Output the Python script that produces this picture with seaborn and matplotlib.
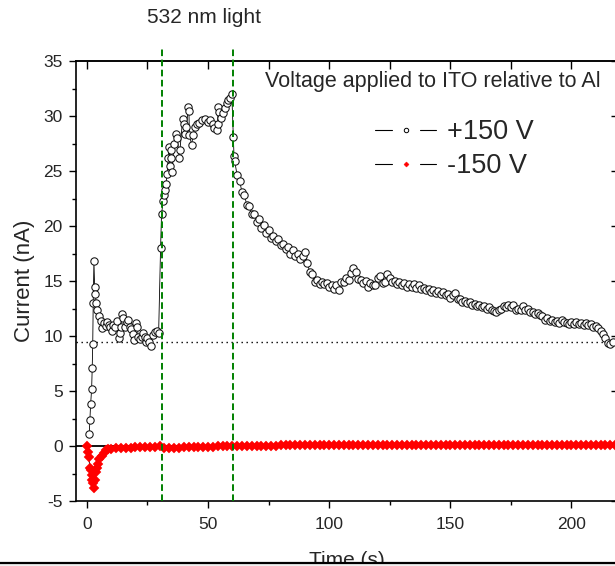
import numpy as np
import pandas as pd
import matplotlib
matplotlib.use("Agg")
import matplotlib.pyplot as plt
import seaborn as sns
from matplotlib.lines import Line2D
from matplotlib.patches import Rectangle
from matplotlib.legend_handler import HandlerBase
from matplotlib.ticker import MultipleLocator

# --- data ---
# +150 V: rise and dark current before the light (t < 30 s)
pos_t_dark = [0.95, 1.24, 1.53, 1.94, 2.19, 2.4, 2.6, 2.89, 3.18, 3.43,
              3.84, 4.25, 4.95, 5.65, 6.2, 7.1, 7.7, 8.4, 9.1, 9.6,
              10.2, 10.9, 11.6, 12.3, 13.1, 13.5, 14.0, 14.4, 15.0, 15.7,
              16.4, 17.0, 17.7, 18.4, 19.0, 19.4, 20.1, 20.8, 21.2, 21.9,
              22.6, 23.2, 23.9, 24.4, 24.9, 25.7, 26.4, 27.1, 28.1, 28.8,
              29.6]
pos_i_dark = [1.06, 2.36, 3.8, 5.15, 7.1, 9.3, 13.0, 16.8, 14.5, 13.8,
              13.0, 12.4, 11.8, 11.4, 10.75, 11.15, 10.9, 11.3, 11.0, 10.8,
              10.5, 11.0, 10.85, 11.4, 9.8, 10.25, 10.8, 12.0, 11.6, 10.8,
              11.3, 11.45, 10.8, 10.6, 10.2, 9.6, 11.2, 10.85, 9.9, 9.7,
              9.9, 10.3, 9.9, 9.5, 9.8, 9.5, 9.1, 10.1, 10.4, 10.5,
              10.3]

# +150 V: light on (30-60 s)
pos_t_light = [30.4, 30.8, 31.5, 31.8, 32.2, 32.6, 33.1, 33.55, 33.95, 34.25,
               34.5, 34.9, 35.2, 35.9, 36.7, 37.3, 38.1, 38.4, 39.5, 40.0,
               40.4, 41.1, 41.8, 42.1, 42.3, 43.2, 43.9, 44.6, 45.5, 46.3,
               47.3, 48.7, 50.1, 51.0, 51.9, 52.4, 53.5, 53.9, 54.2, 54.6,
               55.3, 56.0, 57.0, 57.7, 58.3, 59.0, 59.8, 60.4, 60.7]
pos_i_light = [18.0, 21.1, 22.3, 22.8, 23.3, 23.8, 24.7, 26.2, 27.2, 25.5,
               26.2, 26.9, 24.9, 27.5, 28.4, 28.0, 26.2, 26.9, 29.7, 29.3,
               28.4, 29.0, 30.8, 30.5, 28.3, 27.4, 28.3, 29.0, 29.3, 29.4,
               29.6, 29.7, 29.5, 29.6, 29.3, 28.9, 28.7, 29.3, 30.8, 30.4,
               29.8, 30.25, 30.7, 31.2, 31.45, 31.6, 32.0, 28.1, 26.4]

# +150 V: decay after the light, one reading per second from 61 s to 217 s
pos_t_decay = np.arange(61, 218)
pos_i_decay = [25.9, 24.6, 24.1, 23.1, 22.8, 21.9, 21.8, 21.1, 21.1, 20.4,
               20.6, 19.8, 20.1, 19.4, 19.6, 18.9, 19.1, 18.6, 18.8, 18.3,
               18.4, 17.9, 18.1, 17.5, 17.8, 17.3, 17.5, 17.0, 17.3, 17.6,
               16.6, 15.8, 15.6, 14.9, 15.1, 14.7, 14.9, 14.7, 14.8, 14.5,
               14.6, 14.3, 14.6, 14.2, 14.9, 14.9, 15.3, 15.1, 15.7, 16.2,
               15.8, 15.2, 15.1, 14.8, 15.0, 14.5, 14.8, 14.6, 14.6, 15.3,
               15.5, 14.8, 14.9, 15.6, 15.3, 14.9, 15.0, 14.7, 14.9, 14.6,
               14.8, 14.5, 14.7, 14.5, 14.7, 14.4, 14.6, 14.3, 14.4, 14.2,
               14.3, 14.0, 14.2, 13.9, 14.1, 13.8, 14.0, 13.7, 13.8, 13.5,
               13.7, 13.9, 13.4, 13.4, 13.1, 13.2, 13.0, 13.1, 12.8, 12.9,
               12.7, 12.8, 12.6, 12.7, 12.5, 12.6, 12.4, 12.3, 12.2, 12.4,
               12.5, 12.7, 12.6, 12.8, 12.6, 12.8, 12.4, 12.5, 12.4, 12.7,
               12.4, 12.5, 12.2, 12.2, 12.0, 12.1, 11.9, 11.8, 11.5, 11.6,
               11.4, 11.5, 11.3, 11.4, 11.2, 11.5, 11.3, 11.2, 11.1, 11.3,
               11.1, 11.3, 11.1, 11.2, 11.0, 11.2, 11.0, 11.1, 10.8, 10.9,
               10.7, 10.5, 10.2, 9.8, 9.4, 9.3, 9.5]

# -150 V: fast initial transient
neg_t_start = [0, 0.4, 0.8, 1.2, 1.5, 1.9, 2.3, 2.6, 3.0, 3.3,
               3.6, 4.0, 4.5, 5.1, 6.1, 7.0, 7.9, 8.8]
neg_i_start = [0.0, -0.5, -1.0, -2.0, -2.2, -2.6, -3.1, -3.4, -3.8, -3.1,
               -2.4, -2.0, -1.6, -1.2, -0.9, -0.6, -0.4, -0.3]

# -150 V: one reading every 2 s from 10 s to 218 s
neg_t_rest = np.arange(10, 219, 2)
neg_i_rest = [-0.25, -0.2, -0.2, -0.15, -0.15, -0.1, -0.1, -0.1, -0.05, -0.05,
              0.0, -0.2, -0.2, -0.15, -0.15, -0.1, -0.1, -0.1, -0.05, -0.05,
              -0.05, -0.05, 0.0, 0.0, 0.0, 0.0, 0.0, 0.0, 0.0, 0.0,
              0.0, 0.0, 0.0, 0.0, 0.0, 0.05, 0.05, 0.05, 0.05, 0.05,
              0.05, 0.05, 0.05, 0.05, 0.05, 0.05, 0.05, 0.05, 0.05, 0.05,
              0.05, 0.05, 0.05, 0.05, 0.05, 0.1, 0.05, 0.1, 0.05, 0.1,
              0.1, 0.1, 0.1, 0.1, 0.1, 0.1, 0.1, 0.1, 0.1, 0.1,
              0.1, 0.1, 0.1, 0.1, 0.1, 0.1, 0.1, 0.1, 0.1, 0.1,
              0.1, 0.1, 0.1, 0.1, 0.1, 0.1, 0.1, 0.1, 0.1, 0.1,
              0.1, 0.1, 0.1, 0.1, 0.1, 0.1, 0.1, 0.1, 0.1, 0.1,
              0.1, 0.1, 0.1, 0.1, 0.1]

light_on, light_off = 30.8, 60.3
baseline = 9.45

df_pos = pd.DataFrame({
    "t": np.concatenate([pos_t_dark, pos_t_light, pos_t_decay]),
    "i": np.concatenate([pos_i_dark, pos_i_light, pos_i_decay]),
})
df_neg = pd.DataFrame({
    "t": np.concatenate([neg_t_start, neg_t_rest]),
    "i": np.concatenate([neg_i_start, neg_i_rest]),
})


class GapHandler(HandlerBase):
    # Origin style legend entry: line - symbol - line
    def create_artists(self, legend, orig_handle, xdescent, ydescent,
                       width, height, fontsize, trans):
        y = height / 2 - ydescent
        x0 = -xdescent
        seg = 0.27 * width
        left = Line2D([x0, x0 + seg], [y, y], color="black", lw=0.8)
        right = Line2D([x0 + width - seg, x0 + width], [y, y], color="black", lw=0.8)
        mark = Line2D([x0 + width / 2], [y], linestyle="none",
                      marker=orig_handle.get_marker(),
                      markersize=orig_handle.get_markersize(),
                      markerfacecolor=orig_handle.get_markerfacecolor(),
                      markeredgecolor=orig_handle.get_markeredgecolor(),
                      markeredgewidth=orig_handle.get_markeredgewidth())
        for a in (left, right, mark):
            a.set_transform(trans)
        return [left, right, mark]


sns.set_theme(style="ticks")
plt.rcParams["font.family"] = ["Liberation Sans", "DejaVu Sans"]
plt.rcParams["axes.unicode_minus"] = False

fig = plt.figure(figsize=(6.15, 5.66), dpi=100)
ax = fig.add_axes([0.1236, 0.1148, 0.8813, 0.7774])

ax.axhline(0, color="black", lw=1.3, zorder=1)
ax.axhline(baseline, color="black", lw=1.0, linestyle=(0, (1, 2.6)), zorder=1)

sns.lineplot(data=df_pos, x="t", y="i", ax=ax, sort=False, estimator=None,
             color="black", lw=0.6, marker="o", markersize=5.3,
             markerfacecolor="white", markeredgecolor="#111111",
             markeredgewidth=0.75, zorder=3)
sns.lineplot(data=df_neg, x="t", y="i", ax=ax, sort=False, estimator=None,
             color="black", lw=0.6, marker="D", markersize=5.4,
             markerfacecolor="red", markeredgecolor="red",
             markeredgewidth=0.3, zorder=4)

for xv in (light_on, light_off):
    ax.plot([xv, xv], [-5, 36.1], color="#008000", lw=1.4,
            linestyle=(0, (3.4, 1.8)), clip_on=False, zorder=5)

ax.set_xlim(-4.5, 219.2)
ax.set_ylim(-5, 35)
ax.xaxis.set_major_locator(MultipleLocator(50))
ax.xaxis.set_minor_locator(MultipleLocator(25))
ax.yaxis.set_major_locator(MultipleLocator(5))
ax.yaxis.set_minor_locator(MultipleLocator(2.5))
ax.tick_params(which="major", direction="out", length=5, width=1.0,
               labelsize=12.5, pad=4.5, color="black")
ax.tick_params(axis="x", which="major", pad=6.5)
ax.tick_params(which="minor", direction="out", length=3.2, width=1.0,
               color="black")
for s in ax.spines.values():
    s.set_linewidth(1.2)
    s.set_color("black")

top = ax.secondary_xaxis("top")
top.xaxis.set_major_locator(MultipleLocator(50))
top.xaxis.set_minor_locator(MultipleLocator(25))
top.tick_params(which="both", direction="in", length=5.5, width=1.0,
                labeltop=False, color="black")
top.spines["top"].set_linewidth(1.2)

right = ax.secondary_yaxis("right")
right.yaxis.set_major_locator(MultipleLocator(5))
right.yaxis.set_minor_locator(MultipleLocator(2.5))
right.tick_params(which="major", direction="in", length=5, width=1.0,
                  labelright=False, color="black")
right.tick_params(which="minor", direction="in", length=2, width=1.0,
                  labelright=False, color="black")

# the x label sits partly below the frame line, as in the source picture
ax.set_xlabel("Time (s)", fontsize=15, labelpad=13.5)
ax.set_ylabel("Current (nA)", fontsize=16, labelpad=6)

ax.text(48.3, 39.0, "532 nm light", fontsize=15, ha="center", va="center",
        clip_on=False)
fig.text(265 / 615, 1 - 81.7 / 566, "Voltage applied to ITO relative to Al",
         fontsize=15.5, ha="left", va="center")

handles = [
    Line2D([], [], marker="o", markersize=3.2, markerfacecolor="white",
           markeredgecolor="black", markeredgewidth=0.7, label="+150 V"),
    Line2D([], [], marker="D", markersize=2.6, markerfacecolor="red",
           markeredgecolor="red", markeredgewidth=0.3, label="-150 V"),
]
fig.legend(handles=handles, handler_map={Line2D: GapHandler()},
           loc="upper left", bbox_to_anchor=(375 / 615, 1 - 119.5 / 566),
           frameon=False, fontsize=19.5, handlelength=2.27,
           handletextpad=0.38, labelspacing=0.28, borderpad=0,
           borderaxespad=0)

# the picture is cut off at the bottom by a frame line
fig.add_artist(Rectangle((0, 0), 1, 3.5 / 566, transform=fig.transFigure,
                         facecolor="#f0f0f0", edgecolor="none", zorder=20))
fig.add_artist(Line2D([0, 1], [3.5 / 566, 3.5 / 566], transform=fig.transFigure,
                      color="black", lw=1.6, zorder=21))

fig.savefig("out.png", dpi=100)
